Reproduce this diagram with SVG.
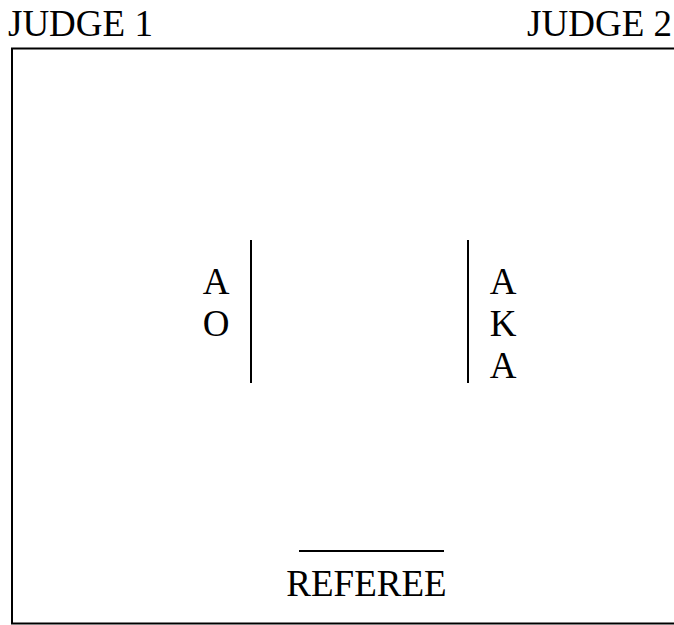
<svg xmlns="http://www.w3.org/2000/svg" width="674" height="625" viewBox="0 0 674 625">
<style>
text{font-family:"Liberation Serif","Times New Roman",serif;font-size:37px;fill:#000}
.ln{stroke:#000;stroke-width:2;fill:none}
</style>
<rect width="674" height="625" fill="#fff"/>
<g id="ring"><rect x="12" y="48.5" width="670" height="575" fill="none" stroke="#000" stroke-width="2"/></g>
<g id="judge1"><text x="8" y="36">JUDGE 1</text></g>
<g id="judge2"><text x="672" y="36" text-anchor="end">JUDGE 2</text></g>
<g id="ao">
<line class="ln" x1="251" y1="240" x2="251" y2="383"/>
<text x="216" y="294" text-anchor="middle">A</text>
<text x="216" y="336" text-anchor="middle">O</text>
</g>
<g id="aka">
<line class="ln" x1="468" y1="240" x2="468" y2="383"/>
<text x="503" y="294" text-anchor="middle">A</text>
<text x="503" y="336" text-anchor="middle">K</text>
<text x="503" y="378" text-anchor="middle">A</text>
</g>
<g id="referee">
<line class="ln" x1="299" y1="551" x2="444" y2="551"/>
<text x="366.5" y="596" text-anchor="middle">REFEREE</text>
</g>
</svg>
